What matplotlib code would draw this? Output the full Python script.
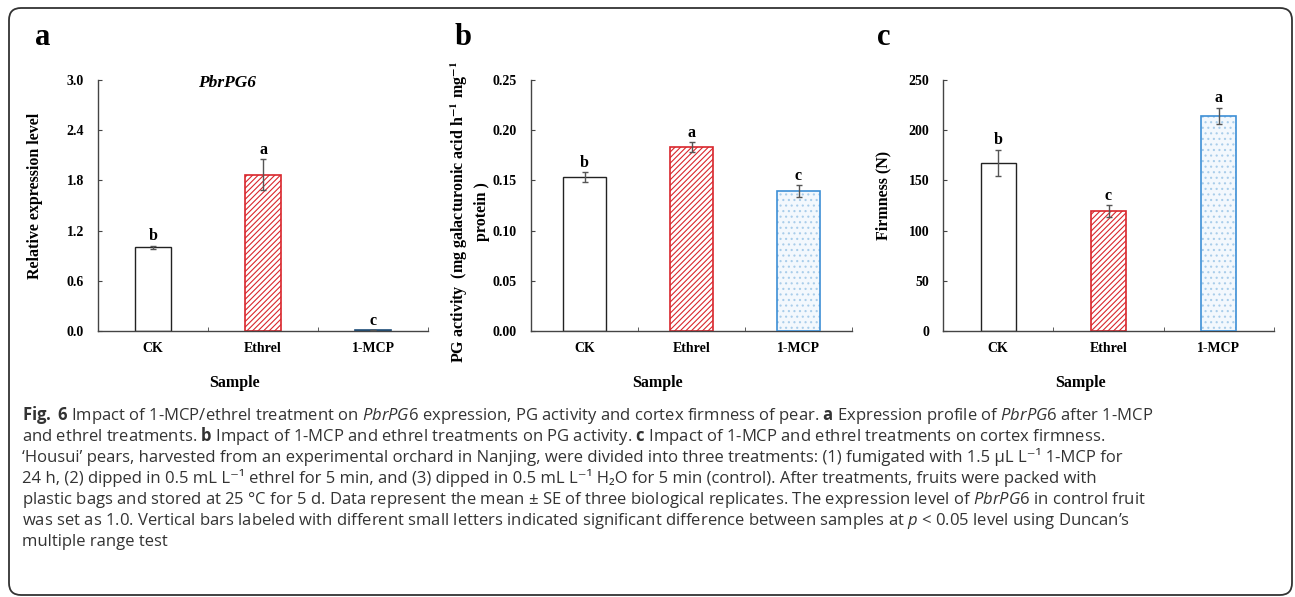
import matplotlib

matplotlib.use("Agg")
import matplotlib.pyplot as plt
from matplotlib.patches import FancyBboxPatch

W, H = 1295, 597

categories = ["CK", "Ethrel", "1-MCP"]

# a: relative expression of PbrPG6
expr_mean = [1.00, 1.87, 0.01]
expr_se = [0.02, 0.18, 0.0]
expr_letters = ["b", "a", "c"]
expr_ticks = [0.0, 0.6, 1.2, 1.8, 2.4, 3.0]

# b: PG activity
pg_mean = [0.153, 0.183, 0.139]
pg_se = [0.005, 0.005, 0.006]
pg_letters = ["b", "a", "c"]
pg_ticks = [0.00, 0.05, 0.10, 0.15, 0.20, 0.25]

# c: firmness
firm_mean = [167.5, 119.5, 214.5]
firm_se = [13.0, 6.0, 8.0]
firm_letters = ["b", "c", "a"]
firm_ticks = [0, 50, 100, 150, 200, 250]

caption_lines = [
    r"$\mathbf{Fig.\;6}$ Impact of 1-MCP/ethrel treatment on $\mathit{PbrPG6}$ expression, PG activity and cortex firmness of pear. $\mathbf{a}$ Expression profile of $\mathit{PbrPG6}$ after 1-MCP",
    r"and ethrel treatments. $\mathbf{b}$ Impact of 1-MCP and ethrel treatments on PG activity. $\mathbf{c}$ Impact of 1-MCP and ethrel treatments on cortex firmness.",
    "‘Housui’ pears, harvested from an experimental orchard in Nanjing, were divided into three treatments: (1) fumigated with 1.5 µL L⁻¹ 1-MCP for",
    "24 h, (2) dipped in 0.5 mL L⁻¹ ethrel for 5 min, and (3) dipped in 0.5 mL L⁻¹ H₂O for 5 min (control). After treatments, fruits were packed with",
    r"plastic bags and stored at 25 °C for 5 d. Data represent the mean ± SE of three biological replicates. The expression level of $\mathit{PbrPG6}$ in control fruit",
    r"was set as 1.0. Vertical bars labeled with different small letters indicated significant difference between samples at $\mathit{p}$ < 0.05 level using Duncan’s",
    "multiple range test",
]

plt.rcParams["font.family"] = ["Liberation Serif", "DejaVu Serif"]
plt.rcParams["mathtext.fontset"] = "custom"
plt.rcParams["mathtext.rm"] = "Open Sans"
plt.rcParams["mathtext.it"] = "Open Sans:italic"
plt.rcParams["mathtext.bf"] = "Open Sans:bold"
plt.rcParams["hatch.linewidth"] = 0.8

RED = "#d9262c"
BLUE = "#3d8fd6"
LIGHTBLUE = "#a9cdea"
AXC = "#444444"


def fx(x):
    return x / W


def fy(y):
    return 1 - y / H


def make_axes(fig, left, right, top=80, bottom=331):
    return fig.add_axes([fx(left), fy(bottom), (right - left) / W, (bottom - top) / H])


def draw_panel(ax, means, errs, letters, ticks, fmt, width, mcp_dotted):
    x = list(range(len(categories)))
    ax.bar(x[0], means[0], width, color="white", edgecolor="#222222", lw=1.0, zorder=2)
    ax.bar(x[1], means[1], width, color="white", edgecolor=RED, hatch="//////", lw=1.2, zorder=2)
    if mcp_dotted:
        ax.bar(x[2], means[2], width, color="#f3f8fd", edgecolor=LIGHTBLUE, hatch="...",
               lw=0, zorder=2)
        ax.bar(x[2], means[2], width, color="none", edgecolor=BLUE, lw=1.2, zorder=3)
    else:
        ax.bar(x[2], means[2], width, color="#1f4e79", edgecolor="#1f4e79", lw=1.2, zorder=2)
    ax.errorbar(x, means, yerr=errs, fmt="none", ecolor="#555555", elinewidth=1.0,
                capsize=2.5, capthick=1.0, zorder=4)
    for xi, m, e, lab in zip(x, means, errs, letters):
        ax.annotate(lab, (xi, m + e), xytext=(0, 1), textcoords="offset points",
                    ha="center", va="bottom", fontsize=11.5, fontweight="bold")

    ax.set_xlim(-0.5, 2.5)
    ax.set_ylim(ticks[0], ticks[-1])
    ax.set_yticks(ticks)
    ax.set_yticklabels([fmt % t for t in ticks])
    ax.set_xticks(x)
    ax.set_xticklabels(categories, fontsize=10, fontweight="bold")
    ax.set_xticks([0.5, 1.5, 2.5], minor=True)
    ax.tick_params(axis="x", which="major", length=0, pad=8)
    ax.tick_params(axis="x", which="minor", direction="in", length=3, color=AXC)
    ax.tick_params(axis="y", direction="in", length=3, color=AXC, pad=10)
    for lab in ax.get_yticklabels():
        lab.set_fontsize(10)
        lab.set_fontweight("bold")
    for s in ["top", "right"]:
        ax.spines[s].set_visible(False)
    for s in ["left", "bottom"]:
        ax.spines[s].set_color(AXC)
        ax.spines[s].set_linewidth(1.0)


fig = plt.figure(figsize=(W / 100, H / 100), dpi=100)

border = FancyBboxPatch((0.09, 0.02), 12.83, 5.87, boxstyle="round,pad=0,rounding_size=0.12",
                        transform=fig.dpi_scale_trans, fc="none", ec="#333333", lw=1.3)
fig.add_artist(border)

ax_a = make_axes(fig, 98, 428)
ax_b = make_axes(fig, 531, 852)
ax_c = make_axes(fig, 943, 1274)

draw_panel(ax_a, expr_mean, expr_se, expr_letters, expr_ticks, "%.1f", 0.32, False)
draw_panel(ax_b, pg_mean, pg_se, pg_letters, pg_ticks, "%.2f", 0.40, True)
draw_panel(ax_c, firm_mean, firm_se, firm_letters, firm_ticks, "%d", 0.32, True)

# panel letters
for lx, letter in [(43, "a"), (463, "b"), (884, "c")]:
    fig.text(fx(lx), fy(45), letter, fontsize=22, fontweight="bold", ha="center", va="baseline")

fig.text(fx(227), fy(83), "PbrPG6", fontsize=12.5, fontweight="bold", style="italic",
         ha="center", va="center")

# axis titles
fig.text(fx(35), fy(196), "Relative expression level", rotation=90, fontsize=11.5,
         fontweight="bold", ha="center", va="center")
fig.text(fx(469), fy(212),
         "PG activity  (mg galacturonic acid h$^{\\mathbf{-1}}$ mg$^{\\mathbf{-1}}$\nprotein )",
         rotation=90, fontsize=11.5, fontweight="bold", ha="center", va="center",
         multialignment="center", linespacing=1.35, math_fontfamily="stix")
fig.text(fx(883), fy(195), "Firmness (N)", rotation=90, fontsize=11.5, fontweight="bold",
         ha="center", va="center")
for sx in [235, 657, 1081]:
    fig.text(fx(sx), fy(383), "Sample", fontsize=11.5, fontweight="bold", ha="center", va="center")

# caption
baselines = [420, 441, 462, 483, 504, 525, 546]
for yb, line in zip(baselines, caption_lines):
    fig.text(fx(22), fy(yb), line, fontsize=12, family=["Open Sans", "DejaVu Sans"],
             color="#333333", ha="left", va="baseline", math_fontfamily="custom")

fig.savefig("out.png", dpi=100)
